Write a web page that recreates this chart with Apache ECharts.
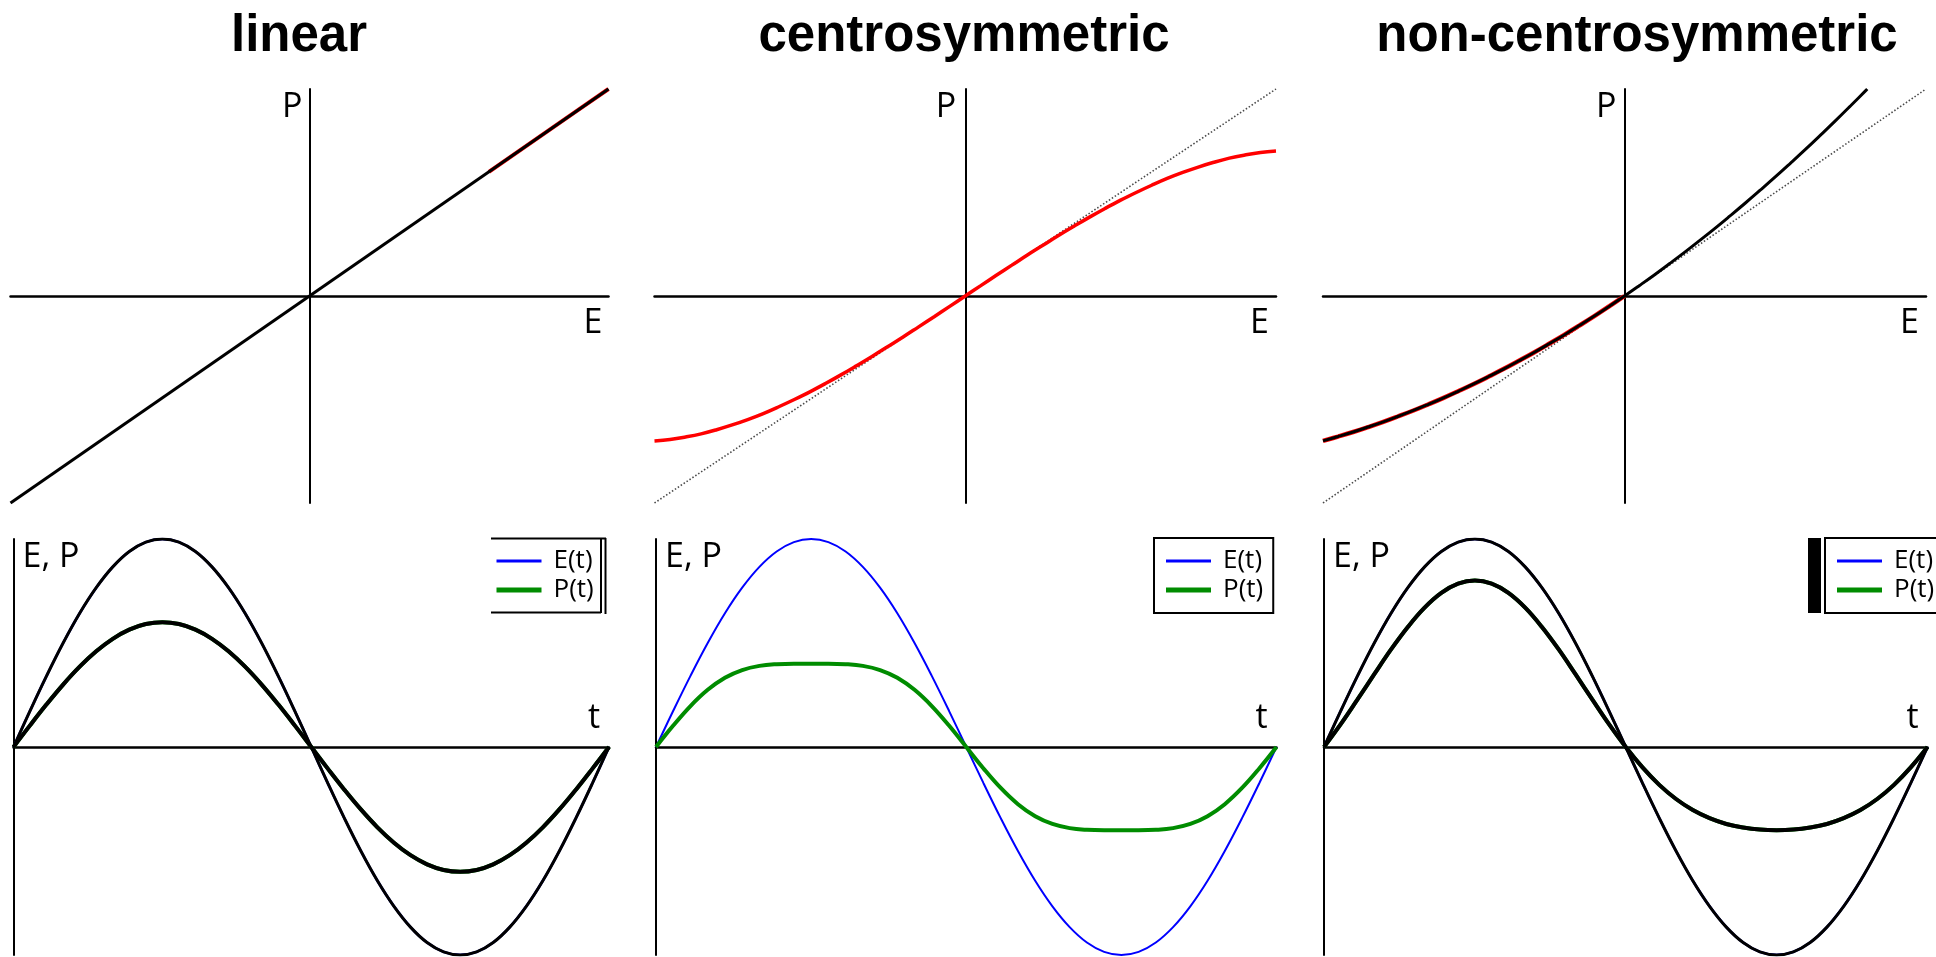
<!DOCTYPE html>
<html>
<head>
<meta charset="utf-8">
<script src="https://cdn.jsdelivr.net/npm/echarts@6/dist/echarts.min.js"></script>
<style>
  html, body { margin: 0; padding: 0; background: #fff; }
  #chart { width: 1936px; height: 957px; }
</style>
</head>
<body>
<div id="chart"></div>
<script>
// ---- Static response P(E), field normalised to [-1, 1] ----
const fieldE      = [-1.00, -0.95, -0.90, -0.85, -0.80, -0.75, -0.70, -0.65, -0.60, -0.55, -0.50, -0.45, -0.40, -0.35, -0.30, -0.25, -0.20, -0.15, -0.10, -0.05,
                      0, 0.05, 0.10, 0.15, 0.20, 0.25, 0.30, 0.35, 0.40, 0.45, 0.50, 0.55, 0.60, 0.65, 0.70, 0.75, 0.80, 0.85, 0.90, 0.95, 1.00];
const centroP     = [-0.700, -0.693, -0.681, -0.666, -0.646, -0.623, -0.597, -0.568, -0.535, -0.500, -0.463, -0.423, -0.381, -0.337, -0.292, -0.245, -0.198, -0.149, -0.100, -0.050,
                      0, 0.050, 0.100, 0.149, 0.198, 0.245, 0.292, 0.337, 0.381, 0.423, 0.463, 0.500, 0.535, 0.568, 0.597, 0.623, 0.646, 0.666, 0.681, 0.693, 0.700];
const nonCentroE  = [-1.00, -0.95, -0.90, -0.85, -0.80, -0.75, -0.70, -0.65, -0.60, -0.55, -0.50, -0.45, -0.40, -0.35, -0.30, -0.25, -0.20, -0.15, -0.10, -0.05,
                      0, 0.05, 0.10, 0.15, 0.20, 0.25, 0.30, 0.35, 0.40, 0.45, 0.50, 0.55, 0.60, 0.65, 0.70, 0.75, 0.80, 0.805];
const nonCentroP  = [-0.700, -0.679, -0.657, -0.633, -0.608, -0.581, -0.553, -0.523, -0.492, -0.459, -0.425, -0.389, -0.352, -0.313, -0.273, -0.231, -0.188, -0.143, -0.097, -0.049,
                      0, 0.051, 0.103, 0.157, 0.212, 0.269, 0.327, 0.387, 0.448, 0.511, 0.575, 0.641, 0.708, 0.777, 0.847, 0.919, 0.992, 1.000];
const diagE       = [-1, 1];
const diagP       = [-1, 1];
const linearTipE  = [0.6, 0.7, 0.8, 0.9, 1.0];
const linearTipP  = [0.6, 0.7, 0.8, 0.9, 1.0];

// ---- One period of the driving field and the response, phase in degrees ----
const phase       = [0, 10, 20, 30, 40, 50, 60, 70, 80, 90, 100, 110, 120, 130, 140, 150, 160, 170, 180,
                     190, 200, 210, 220, 230, 240, 250, 260, 270, 280, 290, 300, 310, 320, 330, 340, 350, 360];
const fieldT      = [0, 0.174, 0.342, 0.500, 0.643, 0.766, 0.866, 0.940, 0.985, 1.000, 0.985, 0.940, 0.866, 0.766, 0.643, 0.500, 0.342, 0.174, 0,
                     -0.174, -0.342, -0.500, -0.643, -0.766, -0.866, -0.940, -0.985, -1.000, -0.985, -0.940, -0.866, -0.766, -0.643, -0.500, -0.342, -0.174, 0];
const linearPt    = [0, 0.104, 0.205, 0.300, 0.386, 0.460, 0.520, 0.564, 0.591, 0.600, 0.591, 0.564, 0.520, 0.460, 0.386, 0.300, 0.205, 0.104, 0,
                     -0.104, -0.205, -0.300, -0.386, -0.460, -0.520, -0.564, -0.591, -0.600, -0.591, -0.564, -0.520, -0.460, -0.386, -0.300, -0.205, -0.104, 0];
const centroPt    = [0, 0.103, 0.197, 0.275, 0.333, 0.370, 0.390, 0.398, 0.400, 0.400, 0.400, 0.398, 0.390, 0.370, 0.333, 0.275, 0.197, 0.103, 0,
                     -0.103, -0.197, -0.275, -0.333, -0.370, -0.390, -0.398, -0.400, -0.400, -0.400, -0.398, -0.390, -0.370, -0.333, -0.275, -0.197, -0.103, 0];
const nonCentroPt = [0, 0.110, 0.229, 0.350, 0.469, 0.577, 0.670, 0.741, 0.785, 0.800, 0.785, 0.741, 0.670, 0.577, 0.469, 0.350, 0.229, 0.110, 0,
                     -0.098, -0.182, -0.250, -0.303, -0.342, -0.370, -0.387, -0.397, -0.400, -0.397, -0.387, -0.370, -0.342, -0.303, -0.250, -0.182, -0.098, 0];

const panelTitles = ['linear', 'centrosymmetric', 'non-centrosymmetric'];
const legendNames = ['E(t)', 'P(t)'];

const RED = '#ff0000', BLUE = '#0000ff', GREEN = '#008c00', BLACK = '#000000', DOT = '#4a4a4a';
const LABEL_FONT = 'Open Sans';

function zip(xs, ys) { return xs.map((x, i) => [x, ys[i]]); }

function curve(idx, xs, ys, color, width, opts) {
  return Object.assign({
    type: 'line', xAxisIndex: idx, yAxisIndex: idx,
    data: zip(xs, ys), symbol: 'none', showSymbol: false, smooth: 0.4,
    lineStyle: { color: color, width: width }, itemStyle: { color: color },
    silent: true, animation: false
  }, opts || {});
}

function xAxisOf(idx, min, max, name, gap, pad, vAlign) {
  return {
    type: 'value', gridIndex: idx, min: min, max: max,
    axisLine: { onZero: true, lineStyle: { color: BLACK, width: 2.5 } },
    axisTick: { show: false }, axisLabel: { show: false }, splitLine: { show: false },
    name: name, nameLocation: 'end', nameGap: gap,
    nameTextStyle: { fontFamily: LABEL_FONT, fontSize: 34, color: BLACK, align: 'right', verticalAlign: vAlign, padding: pad }
  };
}

function yAxisOf(idx, name, align, pad) {
  return {
    type: 'value', gridIndex: idx, min: -1, max: 1,
    axisLine: { onZero: true, lineStyle: { color: BLACK, width: 2 } },
    axisTick: { show: false }, axisLabel: { show: false }, splitLine: { show: false },
    name: name, nameLocation: 'end', nameGap: -1,
    nameTextStyle: { fontFamily: LABEL_FONT, fontSize: 34, color: BLACK, align: align, verticalAlign: 'top', padding: pad }
  };
}

// legend keys are plain strokes: thin for the field, thick for the polarisation
function legendAt(left, bordered) {
  return {
    orient: 'vertical', left: left, top: 538,
    data: [
      { name: legendNames[0], icon: 'path://M0,0h45v3h-45z' },
      { name: legendNames[1], icon: 'path://M0,0h45v5h-45z' }
    ],
    itemWidth: 45, itemHeight: 26, itemGap: 3, padding: [10, 10, 10, 12],
    borderColor: BLACK, borderWidth: bordered ? 2 : 0, backgroundColor: '#ffffff',
    textStyle: { fontFamily: LABEL_FONT, fontSize: 26, color: BLACK, padding: [0, 0, 0, 7] },
    selectedMode: false
  };
}

const grids = [
  { left: 10.5, top: 89, width: 598, height: 414 },
  { left: 654.5, top: 89, width: 621.5, height: 414 },
  { left: 1323, top: 89, width: 603, height: 414 },
  { left: 13.5, top: 539, width: 595.5, height: 416 },
  { left: 656, top: 539, width: 620.5, height: 416 },
  { left: 1324, top: 539, width: 603.5, height: 416 }
].map(g => Object.assign({ containLabel: false, outerBoundsMode: 'none' }, g));

const xAxes = [
  xAxisOf(0, -1, 1, 'E', -6, [10, 0, 0, 0], 'top'),
  xAxisOf(1, -1, 1, 'E', -7, [10, 0, 0, 0], 'top'),
  xAxisOf(2, -1, 1, 'E', -7, [10, 0, 0, 0], 'top'),
  xAxisOf(3, 0, 360, 't', -9, [0, 0, 12, 0], 'bottom'),
  xAxisOf(4, 0, 360, 't', -9, [0, 0, 12, 0], 'bottom'),
  xAxisOf(5, 0, 360, 't', -9, [0, 0, 12, 0], 'bottom')
];

const yAxes = [
  yAxisOf(0, 'P', 'right', [0, 7, 0, 0]),
  yAxisOf(1, 'P', 'right', [0, 9, 0, 0]),
  yAxisOf(2, 'P', 'right', [0, 8, 0, 0]),
  yAxisOf(3, 'E, P', 'left', [0, 0, 0, 9]),
  yAxisOf(4, 'E, P', 'left', [0, 0, 0, 9]),
  yAxisOf(5, 'E, P', 'left', [0, 0, 0, 9])
];

const dotted = { lineStyle: { color: DOT, width: 1.6, type: [1.5, 2] }, smooth: false };

const series = [
  // linear P(E)
  curve(0, linearTipE, linearTipP, RED, 4, { smooth: false }),
  curve(0, diagE, diagP, BLACK, 3, { smooth: false }),
  // centrosymmetric P(E)
  curve(1, diagE, diagP, DOT, 1.6, dotted),
  curve(1, fieldE, centroP, RED, 3.5),
  // non-centrosymmetric P(E)
  curve(2, diagE, diagP, DOT, 1.6, dotted),
  curve(2, nonCentroE.slice(0, 21), nonCentroP.slice(0, 21), RED, 4.5),
  curve(2, nonCentroE, nonCentroP, BLACK, 3),
  // time traces: linear (black trace drawn over the coloured one)
  curve(3, phase, fieldT, BLUE, 2.5, { name: 'E(t)' }),
  curve(3, phase, linearPt, GREEN, 4, { name: 'P(t)' }),
  curve(3, phase, fieldT, BLACK, 3),
  curve(3, phase, linearPt, BLACK, 4),
  // time traces: centrosymmetric
  curve(4, phase, fieldT, BLUE, 2, { name: 'E(t)' }),
  curve(4, phase, centroPt, GREEN, 4, { name: 'P(t)' }),
  // time traces: non-centrosymmetric
  curve(5, phase, fieldT, BLUE, 2.5, { name: 'E(t)' }),
  curve(5, phase, nonCentroPt, GREEN, 4, { name: 'P(t)' }),
  curve(5, phase, fieldT, BLACK, 3),
  curve(5, phase, nonCentroPt, BLACK, 4)
];

const titleCenters = [299, 964, 1637];
const titles = panelTitles.map((t, i) => ({
  text: t, left: titleCenters[i], top: 11, textAlign: 'center', padding: 0,
  textStyle: { fontFamily: 'Liberation Sans', fontWeight: 'bold', fontSize: 51, color: BLACK }
}));

// partial frame around the first legend and the bar beside the last one
const frame = { stroke: BLACK, lineWidth: 2 };
const graphic = [
  { type: 'line', shape: { x1: 491, y1: 538.5, x2: 606, y2: 538.5 }, style: frame, z: 100 },
  { type: 'line', shape: { x1: 491, y1: 612.5, x2: 601, y2: 612.5 }, style: frame, z: 100 },
  { type: 'line', shape: { x1: 601, y1: 538, x2: 601, y2: 613 }, style: frame, z: 100 },
  { type: 'line', shape: { x1: 605.5, y1: 538, x2: 605.5, y2: 614 }, style: frame, z: 100 },
  { type: 'rect', shape: { x: 1808, y: 538, width: 13, height: 75 }, style: { fill: BLACK }, z: 100 }
];

const chart = echarts.init(document.getElementById('chart'), null, { renderer: 'canvas' });
chart.setOption({
  backgroundColor: '#ffffff',
  animation: false,
  title: titles,
  grid: grids,
  xAxis: xAxes,
  yAxis: yAxes,
  legend: [legendAt(484.5, false), legendAt(1154, true), legendAt(1825, true)],
  series: series,
  graphic: graphic
});
</script>
</body>
</html>
